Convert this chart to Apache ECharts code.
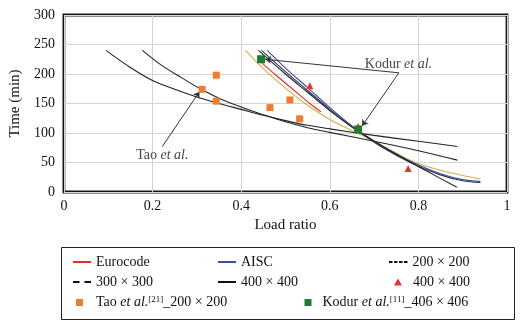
<!DOCTYPE html>
<html>
<head>
<meta charset="utf-8">
<script src="https://cdn.jsdelivr.net/npm/echarts@6/dist/echarts.min.js"></script>
<style>
  html, body { margin: 0; padding: 0; background: #fff; }
  #chart { width: 520px; height: 327px; }
</style>
</head>
<body>
<div id="chart"></div>
<script>
// Fire resistance time vs. load ratio: design curves and test results
const xTicks = { min: 0, max: 1, interval: 0.2 };
const yTicks = { min: 0, max: 300, interval: 50 };

// design-code curves, [load ratio, time in min]
const curve200 = [[0.095,240],[0.15,211],[0.2,189],[0.25,174],[0.3,161],[0.35,150],[0.4,140],[0.45,130],[0.5,121],[0.55,113],[0.6,107],[0.7,96],[0.8,86],[0.888,77]];
const curve300 = [[0.177,240],[0.22,215],[0.267,193],[0.31,174],[0.35,159],[0.4,144],[0.45,131],[0.5,119],[0.55,109],[0.6,101],[0.7,86],[0.8,70],[0.888,54]];
const curve400 = [[0.439,240],[0.5,200],[0.55,169],[0.6,138],[0.65,110],[0.67,100],[0.75,64],[0.82,35],[0.887,8]];
const eurocode = [[0.44,223],[0.48,197],[0.52,172],[0.56,147],[0.58,136]];
const eurocodeLong = [[0.41,240],[0.45,209],[0.5,176],[0.55,147],[0.6,123],[0.65,104],[0.7,86],[0.75,66],[0.79,51],[0.85,37],[0.9,28],[0.94,22]];
const aisc = [[0.459,240],[0.5,210],[0.55,177],[0.6,143],[0.65,112],[0.67,101],[0.72,77],[0.79,49],[0.85,31],[0.9,21],[0.94,18]];
const aiscDark = [[0.446,240],[0.5,204],[0.55,172],[0.6,140],[0.65,111],[0.67,100],[0.72,75],[0.79,47],[0.85,29],[0.9,19],[0.94,16]];

// test results
const test400 = [[0.555,180],[0.664,111],[0.777,40]];
const tao200 = [[0.312,174],[0.344,198],[0.344,154],[0.465,143],[0.51,156],[0.532,124]];
const kodur406 = [[0.445,225],[0.664,106]];

// callouts
const taoArrow = [[[0.222,77],[0.306,170]]];
const kodurArrows = [[[0.756,202],[0.454,225]], [[0.756,202],[0.673,112]]];
const taoLabelAt = [0.222, 63];
const kodurLabelAt = [0.679, 217];

const serif = 'Liberation Serif, serif';
const ink = '#111';

function curve(name, data, color, width) {
  return {
    name, type: 'line', data, smooth: 0.35, symbol: 'none', showSymbol: false,
    lineStyle: { color, width: width || 1.1 }, itemStyle: { color },
    z: 2, silent: true
  };
}

const legendLabels = {
  'Eurocode': 'Eurocode',
  'AISC': 'AISC',
  '200 × 200': '200 × 200',
  '300 × 300': '300 × 300',
  '400 × 400': '400 × 400',
  '400 × 400 test': '400 × 400',
  'Tao': 'Tao {i|et al.}{s|[21]}_200 × 200',
  'Kodur': 'Kodur {i|et al.}{s|[11]}_406 × 406'
};

function legendText(padLeft) {
  return {
    fontFamily: serif, fontSize: 14, color: ink,
    padding: [0, 0, 0, padLeft || 0],
    rich: {
      i: { fontFamily: serif, fontSize: 14, fontStyle: 'italic', color: ink },
      s: { fontFamily: serif, fontSize: 9, color: ink, verticalAlign: 'top', padding: [0, 0, 6, 0] }
    }
  };
}

function legendItem(item, left, top, w, h, padLeft) {
  return {
    data: [item], left, top, padding: 0,
    itemWidth: w, itemHeight: h, itemGap: 0,
    selectedMode: false,
    textStyle: legendText(padLeft),
    formatter: n => legendLabels[n]
  };
}

// stroke-shaped keys for the line entries (solid, short dash, long dash)
const keySolid = 'path://M0,0H18V2H0Z';
const keyShortDash = 'path://M0,0h3.5v2h-3.5zM5,0h3.5v2h-3.5zM10,0h3.5v2h-3.5zM15,0h3.5v2h-3.5z';
const keyLongDash = 'path://M0,0h6.5v2h-6.5zM11.5,0h6.5v2h-6.5z';

function lineKey(name, icon, color) {
  return { name, icon, itemStyle: { color } };
}

const rowY = [255, 275, 295];

const option = {
  animation: false,
  textStyle: { fontFamily: serif },
  grid: { left: 61, right: 13, top: 15, bottom: 135, show: true, borderColor: '#151515', borderWidth: 2.8 },
  xAxis: {
    type: 'value', ...xTicks,
    name: 'Load ratio', nameLocation: 'middle', nameGap: 26,
    nameTextStyle: { fontFamily: serif, fontSize: 15, color: ink },
    axisLine: { show: false }, axisTick: { show: false },
    axisLabel: { fontFamily: serif, fontSize: 14, color: ink, margin: 7 },
    splitLine: { lineStyle: { color: '#d4d4d4', width: 1 } }
  },
  yAxis: {
    type: 'value', ...yTicks,
    name: 'Time (min)', nameLocation: 'middle', nameGap: 38,
    nameTextStyle: { fontFamily: serif, fontSize: 15, color: ink },
    axisLine: { show: false }, axisTick: { show: false },
    axisLabel: { fontFamily: serif, fontSize: 14, color: ink, margin: 9 },
    splitLine: { lineStyle: { color: '#d4d4d4', width: 1 } }
  },
  legend: [
    legendItem(lineKey('Eurocode', keySolid, '#e0302c'), 73, rowY[0], 18, 2),
    legendItem(lineKey('AISC', keySolid, '#3a50a0'), 218, rowY[0], 18, 2),
    legendItem(lineKey('200 × 200', keyShortDash, ink), 389, rowY[0], 18.5, 2),
    legendItem(lineKey('300 × 300', keyLongDash, ink), 73, rowY[1], 18, 2),
    legendItem(lineKey('400 × 400', keySolid, ink), 218, rowY[1], 18, 2),
    legendItem({ name: '400 × 400 test' }, 394, rowY[1], 8, 7, 6),
    legendItem({ name: 'Tao' }, 76, rowY[2], 7, 7, 8),
    legendItem({ name: 'Kodur' }, 304.5, rowY[2], 7, 7, 6)
  ],
  graphic: [{
    type: 'rect', left: 59, top: 245, shape: { width: 453, height: 72 },
    style: { fill: 'none', stroke: '#222', lineWidth: 1 }, silent: true
  }],
  series: [
    curve('200 × 200', curve200, '#222'),
    curve('300 × 300', curve300, '#222'),
    curve('eurocode-long', eurocodeLong, '#d4b040'),
    curve('Eurocode', eurocode, '#e0302c'),
    curve('aisc-dark', aiscDark, '#2c2c60'),
    curve('AISC', aisc, '#3a50a0'),
    curve('400 × 400', curve400, '#222'),
    {
      name: 'taoArrow', type: 'lines', coordinateSystem: 'cartesian2d',
      data: taoArrow.map(c => ({ coords: c })),
      symbol: ['none', 'arrow'], symbolSize: 6,
      lineStyle: { color: '#333', width: 1, opacity: 1 }, z: 3, silent: true
    },
    {
      name: 'kodurArrows', type: 'lines', coordinateSystem: 'cartesian2d',
      data: kodurArrows.map(c => ({ coords: c })),
      symbol: ['none', 'arrow'], symbolSize: 6,
      lineStyle: { color: '#333', width: 1, opacity: 1 }, z: 3, silent: true
    },
    {
      name: '400 × 400 test', type: 'scatter', data: test400,
      symbol: 'triangle', symbolSize: 7, itemStyle: { color: '#e8302c', opacity: 1 }, z: 4
    },
    {
      name: 'Tao', type: 'scatter', data: tao200,
      symbol: 'rect', symbolSize: 7, itemStyle: { color: '#ed7d31', opacity: 1 }, z: 4
    },
    {
      name: 'Kodur', type: 'scatter', data: kodur406,
      symbol: 'rect', symbolSize: 8, itemStyle: { color: '#1e7a34', opacity: 1 }, z: 5
    },
    {
      name: 'callouts', type: 'scatter', symbolSize: 0, silent: true, z: 6,
      data: [
        { value: taoLabelAt, label: { formatter: 'Tao {i|et al.}', align: 'center' } },
        { value: kodurLabelAt, label: { formatter: 'Kodur {i|et al.}', align: 'left' } }
      ],
      label: {
        show: true, position: 'inside', verticalAlign: 'middle',
        fontFamily: serif, fontSize: 14, color: ink,
        rich: { i: { fontFamily: serif, fontSize: 14, fontStyle: 'italic', color: ink } }
      }
    }
  ]
};

const chart = echarts.init(document.getElementById('chart'), null, { renderer: 'canvas' });
chart.setOption(option);
</script>
</body>
</html>
